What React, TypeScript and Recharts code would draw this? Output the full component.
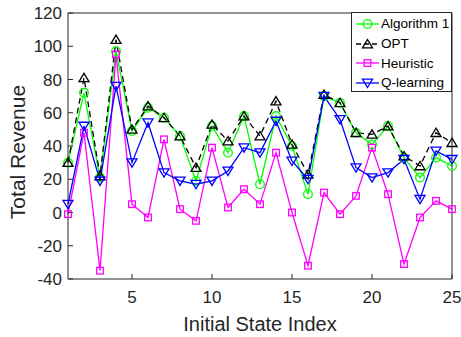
import React from "react";
import { LineChart, Line, XAxis, YAxis, Legend } from "recharts";

// ── Data ────────────────────────────────────────────────────────

const stateIndex = [
  1, 2, 3, 4, 5, 6, 7, 8, 9, 10, 11, 12, 13, 14, 15, 16, 17, 18, 19, 20, 21, 22, 23, 24, 25,
];
const algorithm1 = [
  30, 72, 21, 97, 49, 63, 57, 46, 19, 52, 36, 58, 17, 58, 40, 11, 70, 66, 48, 41, 52, 33, 21, 33, 28,
];
const opt = [
  30, 81, 22, 104, 50, 64, 57, 46, 27, 53, 43, 58, 46, 67, 41, 23, 71, 66, 48, 47, 52, 34, 28, 48, 42,
];
const heuristic = [
  -1, 48, -35, 95, 5, -3, 44, 2, -5, 39, 3, 14, 5, 36, 0, -32, 12, -1, 10, 39, 11, -31, -3, 7, 2,
];
const qLearning = [
  5, 52, 19, 76, 30, 54, 24, 19, 17, 19, 25, 39, 36, 55, 31, 20, 70, 56, 27, 21, 24, 32, 8, 37, 32,
];

const xTicks = [5, 10, 15, 20, 25];
const yTicks = [-40, -20, 0, 20, 40, 60, 80, 100, 120];

const rows = stateIndex.map((idx, i) => ({
  idx,
  alg1: algorithm1[i],
  opt: opt[i],
  heur: heuristic[i],
  ql: qLearning[i],
}));

// ── Markers ─────────────────────────────────────────────────────

const FONT = '"Liberation Sans", Arial, Helvetica, sans-serif';
const AXIS = "#262626";

type Shape = "circle" | "up" | "square" | "down";

function markerEl(shape: Shape, cx: number, cy: number, color: string, key?: string) {
  const common = { key, fill: "none", stroke: color, strokeWidth: 1.3 };
  if (shape === "circle") return <circle {...common} cx={cx} cy={cy} r={4.3} />;
  if (shape === "square")
    return <rect {...common} x={cx - 3.3} y={cy - 3.3} width={6.6} height={6.6} />;
  if (shape === "up")
    return (
      <path {...common} d={`M${cx},${cy - 4.5}L${cx + 5},${cy + 3.8}L${cx - 5},${cy + 3.8}Z`} />
    );
  return <path {...common} d={`M${cx},${cy + 4.5}L${cx + 5},${cy - 3.8}L${cx - 5},${cy - 3.8}Z`} />;
}

const makeDot = (shape: Shape, color: string) => (props: any) => {
  const { cx, cy, index } = props;
  if (cx == null || cy == null) return <g key={`e-${index}`} />;
  return markerEl(shape, cx, cy, color, `m-${index}`);
};

const seriesOrder = ["alg1", "opt", "heur", "ql"];
const seriesStyle: Record<string, { shape: Shape; dash?: string }> = {
  alg1: { shape: "circle" },
  opt: { shape: "up", dash: "6 4" },
  heur: { shape: "square" },
  ql: { shape: "down" },
};

// ── Legend ──────────────────────────────────────────────────────

function renderLegend(props: any) {
  const payload = [...(props.payload || [])].sort(
    (a: any, b: any) => seriesOrder.indexOf(a.dataKey) - seriesOrder.indexOf(b.dataKey)
  );
  return (
    <div
      style={{
        boxSizing: "border-box",
        width: 101,
        height: 80,
        border: `1px solid ${AXIS}`,
        background: "#fff",
        paddingTop: 1,
        fontFamily: FONT,
        fontSize: 13.5,
        color: "#000",
      }}
    >
      {payload.map((p: any) => {
        const st = seriesStyle[p.dataKey];
        return (
          <div
            key={p.dataKey}
            style={{ display: "flex", alignItems: "center", height: 19.7, whiteSpace: "nowrap" }}
          >
            <svg width={27} height={14} style={{ flex: "none", marginLeft: 2 }}>
              <line
                x1={2}
                x2={25}
                y1={7}
                y2={7}
                stroke={p.color}
                strokeWidth={1.3}
                strokeDasharray={st.dash ? "5 3" : undefined}
              />
              {markerEl(st.shape, 13.5, 7, p.color)}
            </svg>
            <span>{p.value}</span>
          </div>
        );
      })}
    </div>
  );
}

// ── Chart ───────────────────────────────────────────────────────

export default function App() {
  return (
    <div style={{ position: "absolute", left: 0, top: 0, width: 461, height: 337, background: "#fff" }}>
      <LineChart
        width={461}
        height={337}
        data={rows}
        margin={{ top: 13, right: 9, left: 0, bottom: 0 }}
        style={{ fontFamily: FONT }}
      >
        <XAxis
          dataKey="idx"
          type="number"
          domain={[1, 25]}
          ticks={xTicks}
          height={58}
          tickSize={-5}
          tickMargin={17}
          stroke={AXIS}
          tick={{ fill: AXIS, fontSize: 17, fontFamily: FONT }}
          label={{
            content: ({ viewBox }: any) => (
              <text
                x={viewBox.x + viewBox.width / 2}
                y={viewBox.y + 52}
                textAnchor="middle"
                fill={AXIS}
                fontSize={20}
                fontFamily={FONT}
              >
                Initial State Index
              </text>
            ),
          }}
        />
        <XAxis
          xAxisId="top"
          orientation="top"
          mirror
          type="number"
          domain={[1, 25]}
          ticks={xTicks}
          tick={false}
          tickSize={5}
          stroke={AXIS}
        />
        <YAxis
          type="number"
          domain={[-40, 120]}
          ticks={yTicks}
          width={68}
          tickSize={-5}
          tickMargin={11}
          stroke={AXIS}
          tick={{ fill: AXIS, fontSize: 17, fontFamily: FONT }}
          label={{
            content: ({ viewBox }: any) => {
              const x = viewBox.x + 25;
              const y = viewBox.y + viewBox.height / 2 + 6;
              return (
                <text
                  x={x}
                  y={y}
                  transform={`rotate(-90, ${x}, ${y})`}
                  textAnchor="middle"
                  fill={AXIS}
                  fontSize={21}
                  fontFamily={FONT}
                >
                  Total Revenue
                </text>
              );
            },
          }}
        />
        <YAxis
          yAxisId="right"
          orientation="right"
          mirror
          type="number"
          domain={[-40, 120]}
          ticks={yTicks}
          tick={false}
          tickSize={5}
          stroke={AXIS}
        />
        <Line
          dataKey="alg1"
          name="Algorithm 1"
          stroke="#00ff00"
          strokeWidth={1.3}
          dot={makeDot("circle", "#00ff00")}
          activeDot={false}
          isAnimationActive={false}
        />
        <Line
          dataKey="opt"
          name="OPT"
          stroke="#000000"
          strokeWidth={1.3}
          strokeDasharray="6 4"
          dot={makeDot("up", "#000000")}
          activeDot={false}
          isAnimationActive={false}
        />
        <Line
          dataKey="heur"
          name="Heuristic"
          stroke="#ff00ff"
          strokeWidth={1.3}
          dot={makeDot("square", "#ff00ff")}
          activeDot={false}
          isAnimationActive={false}
        />
        <Line
          dataKey="ql"
          name="Q-learning"
          stroke="#0000ff"
          strokeWidth={1.3}
          dot={makeDot("down", "#0000ff")}
          activeDot={false}
          isAnimationActive={false}
        />
        <Legend
          layout="vertical"
          align="center"
          verticalAlign="middle"
          itemSorter={null as any}
          content={renderLegend}
          wrapperStyle={{ left: 351, top: 12, width: 101, height: 80 }}
        />
      </LineChart>
    </div>
  );
}
